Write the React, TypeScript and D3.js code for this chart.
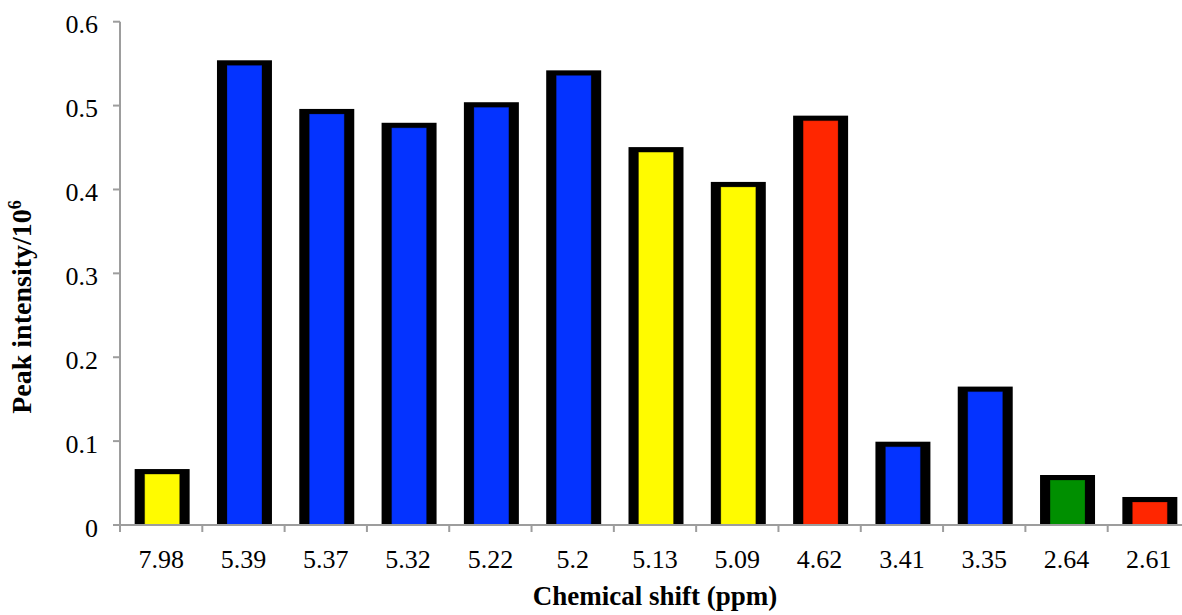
import React from "react";
import * as d3 from "d3";

const categories = ["7.98", "5.39", "5.37", "5.32", "5.22", "5.2", "5.13", "5.09", "4.62", "3.41", "3.35", "2.64", "2.61"];
const values = [0.0667, 0.554, 0.496, 0.4795, 0.504, 0.542, 0.4505, 0.409, 0.488, 0.0993, 0.165, 0.0596, 0.0334];
const colors = ["#FFFB00", "#0433FF", "#0433FF", "#0433FF", "#0433FF", "#0433FF", "#FFFB00", "#FFFB00", "#FF2600", "#0433FF", "#0433FF", "#008F00", "#FF2600"];
const yTicks = [0, 0.1, 0.2, 0.3, 0.4, 0.5, 0.6];

const W = 1182;
const H = 615;
const left = 120;
const right = 1190;
const top = 21.7;
const bottom = 525;
const axisColor = "#9d9d9d";
const font = "'Liberation Serif', 'Times New Roman', serif";

export default function App() {
  const x = d3.scaleBand<string>().domain(categories).range([left, right]).paddingInner(0.332).paddingOuter(0.166);
  const y = d3.scaleLinear().domain([0, 0.6]).range([bottom, top]);
  const step = x.step();
  const bw = x.bandwidth();
  const side = 10;
  const topB = 5;

  return (
    <svg width={W} height={H} style={{ position: "absolute", left: 0, top: 0, background: "#fff" }} fontFamily={font}>
      {categories.map((c, i) => {
        const x0 = x(c)! + 1;
        const yt = y(values[i]);
        return (
          <g key={c}>
            <rect x={x0} y={yt} width={bw} height={bottom - yt} fill="#000" />
            <rect x={x0 + side} y={yt + topB} width={bw - 2 * side} height={bottom - yt - topB} fill={colors[i]} stroke="rgba(0,0,0,0.25)" strokeWidth={1} />
          </g>
        );
      })}
      {/* y axis */}
      <line x1={left} x2={left} y1={top} y2={bottom + 6} stroke={axisColor} strokeWidth={2} />
      {yTicks.map((t) => (
        <g key={t}>
          <line x1={left - 7} x2={left} y1={y(t)} y2={y(t)} stroke={axisColor} strokeWidth={2} />
          <text x={98} y={y(t) + 11.5} textAnchor="end" fontSize={26} fill="#000">
            {d3.format("")(t)}
          </text>
        </g>
      ))}
      {/* x axis */}
      <line x1={left - 7} x2={W} y1={bottom} y2={bottom} stroke={axisColor} strokeWidth={2} />
      {categories.map((c, i) => (
        <line key={"t" + c} x1={left + i * step} x2={left + i * step} y1={bottom} y2={bottom + 7} stroke={axisColor} strokeWidth={2} />
      ))}
      {categories.map((c) => (
        <text key={"l" + c} x={x(c)! + bw / 2} y={568} textAnchor="middle" fontSize={26} fill="#000">
          {c}
        </text>
      ))}
      <text x={655} y={605} textAnchor="middle" fontSize={27} fontWeight="bold" fill="#000">
        Chemical shift (ppm)
      </text>
      <text transform={`translate(31,307) rotate(-90)`} textAnchor="middle" fontSize={28} fontWeight="bold" fill="#000">
        Peak intensity/10
        <tspan fontSize={18} dy={-10}>6</tspan>
      </text>
    </svg>
  );
}
